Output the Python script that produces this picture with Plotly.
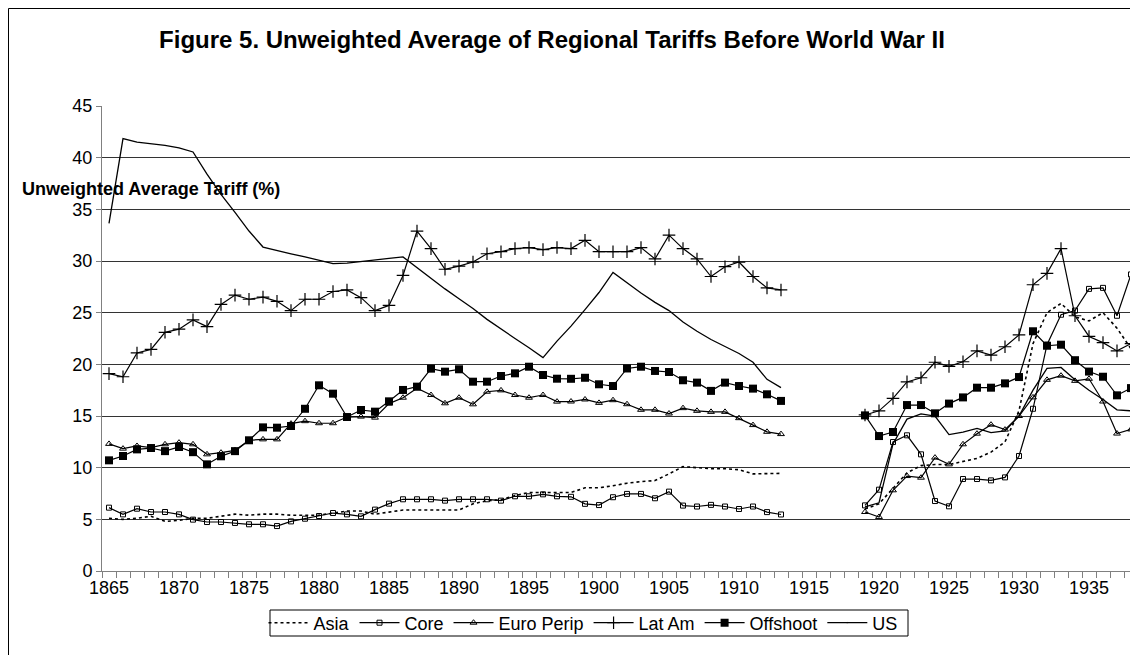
import plotly.graph_objects as go

# years on the category axis; 1914-1918 have no data
years = list(range(1865, 1939))
gap = [None] * 5

asia_early = [5.1, 5.0, 5.1, 5.3, 4.8, 4.9, 5.1, 5.1, 5.3, 5.5,
              5.4, 5.5, 5.5, 5.4, 5.4, 5.4, 5.6, 5.8, 5.8, 5.5,
              5.7, 5.9, 5.9, 5.9, 5.9, 5.9, 6.5, 6.8, 6.9, 7.3,
              7.6, 7.6, 7.6, 7.6, 8.05, 8.05, 8.25, 8.5, 8.65, 8.75,
              9.4, 10.1, 10.0, 9.9, 9.9, 9.8, 9.4, 9.45, 9.45]
asia_late = [6.0, 6.5, 8.0, 9.5, 10.2, 10.3, 10.3, 10.6, 10.9, 11.5,
             12.5, 15.5, 22.0, 25.0, 25.9, 24.6, 24.2, 25.0, 23.5, 21.5]

core_early = [6.13, 5.48, 6.03, 5.71, 5.71, 5.48, 4.97, 4.74, 4.74, 4.65,
              4.52, 4.52, 4.35, 4.8, 5.06, 5.32, 5.61, 5.48, 5.29, 5.94,
              6.52, 6.94, 6.94, 6.94, 6.81, 6.94, 6.94, 6.94, 6.81, 7.23,
              7.23, 7.42, 7.23, 7.18, 6.5, 6.38, 7.14, 7.46, 7.46, 7.04,
              7.68, 6.33, 6.24, 6.4, 6.24, 6.0, 6.24, 5.7, 5.47]
core_late = [6.35, 7.87, 12.48, 13.13, 11.29, 6.77, 6.26, 8.9, 8.9, 8.77,
             9.06, 11.13, 15.7, 21.9, 24.8, 25.2, 27.3, 27.4, 24.7, 28.7]

euro_early = [12.3, 11.84, 12.1, 11.94, 12.26, 12.42, 12.26, 11.29, 11.45, 11.68,
              12.65, 12.74, 12.74, 14.26, 14.5, 14.3, 14.3, 14.9, 14.94, 14.84,
              16.2, 16.77, 17.68, 17.03, 16.23, 16.77, 16.13, 17.35, 17.48, 17.03,
              16.77, 17.03, 16.39, 16.4, 16.6, 16.27, 16.53, 16.14, 15.6, 15.6,
              15.24, 15.76, 15.5, 15.4, 15.4, 14.79, 14.12, 13.47, 13.25]
euro_late = [5.71, 5.23, 7.81, 9.19, 9.03, 10.97, 10.32, 12.26, 13.29, 14.16,
             13.68, 15.0, 16.8, 18.5, 18.9, 18.4, 18.6, 16.4, 13.3, 13.7]

latam_early = [19.1, 18.8, 21.1, 21.45, 23.1, 23.4, 24.3, 23.65, 25.8, 26.7,
               26.3, 26.5, 26.1, 25.2, 26.3, 26.3, 27.05, 27.2, 26.45, 25.2,
               25.7, 28.6, 32.9, 31.2, 29.2, 29.5, 29.9, 30.7, 30.9, 31.2,
               31.3, 31.1, 31.3, 31.2, 32.0, 30.9, 30.9, 30.9, 31.3, 30.2,
               32.5, 31.2, 30.2, 28.5, 29.45, 29.9, 28.5, 27.4, 27.2]
latam_late = [15.1, 15.5, 16.7, 18.3, 18.7, 20.2, 19.8, 20.25, 21.3, 20.9,
              21.7, 22.85, 27.7, 28.8, 31.2, 24.7, 22.7, 22.1, 21.3, 22.0]

offshoot_early = [10.71, 11.13, 11.77, 11.9, 11.6, 12.0, 11.5, 10.32, 11.1, 11.6,
                  12.65, 13.9, 13.87, 14.03, 15.7, 17.97, 17.16, 14.9, 15.58, 15.42,
                  16.42, 17.52, 17.84, 19.58, 19.29, 19.52, 18.32, 18.32, 18.87, 19.13,
                  19.77, 18.97, 18.61, 18.6, 18.7, 18.07, 17.9, 19.6, 19.77, 19.36,
                  19.26, 18.46, 18.23, 17.43, 18.23, 17.9, 17.65, 17.1, 16.46]
offshoot_late = [15.06, 13.06, 13.45, 16.06, 16.06, 15.26, 16.2, 16.8, 17.74, 17.74,
                 18.16, 18.77, 23.2, 21.8, 21.9, 20.4, 19.3, 18.8, 17.0, 17.7]

us_early = [33.65, 41.84, 41.5, 41.35, 41.2, 40.95, 40.55, 38.4, 36.45, 34.7,
            32.9, 31.35, 31.06, 30.7, 30.4, 30.1, 29.74, 29.8, 29.97, 30.15,
            30.26, 30.4, 29.35, 28.3, 27.3, 26.35, 25.4, 24.35, 23.4, 22.5,
            21.6, 20.65, 22.25, 23.7, 25.3, 26.95, 28.9, 27.9, 26.9, 26.0,
            25.2, 24.1, 23.2, 22.4, 21.7, 21.05, 20.2, 18.55, 17.75]
us_late = [6.2, 6.6, 12.3, 14.7, 15.2, 15.0, 13.2, 13.45, 13.8, 13.4,
           13.55, 15.0, 17.5, 19.6, 19.7, 18.5, 17.5, 16.6, 15.6, 15.5]

series = [
    ("Asia", asia_early + gap + asia_late,
     dict(dash="dot", width=1.6), dict(size=1, opacity=0)),
    ("Core", core_early + gap + core_late,
     dict(width=1.2), dict(symbol="square-open", size=5, line=dict(width=1))),
    ("Euro Perip", euro_early + gap + euro_late,
     dict(width=1.2), dict(symbol="triangle-up-open", size=6, line=dict(width=1))),
    ("Lat Am", latam_early + gap + latam_late,
     dict(width=1.2), dict(symbol="cross-thin", size=9, line=dict(width=1.2, color="black"))),
    ("Offshoot", offshoot_early + gap + offshoot_late,
     dict(width=1.2), dict(symbol="square", size=8)),
    ("US", us_early + gap + us_late,
     dict(width=1.3), dict(size=1, opacity=0)),
]

fig = go.Figure()
for name, vals, ln, mk in series:
    ln["color"] = "black"
    mk.setdefault("color", "black")
    fig.add_trace(go.Scatter(x=years, y=vals, name=name, mode="lines+markers",
                             line=ln, marker=mk))

font = "Liberation Sans, Arial, sans-serif"
# plot area is 1036 x 465 px
pw, ph = 1036, 465
fig.update_layout(
    width=1138, height=655,
    paper_bgcolor="white", plot_bgcolor="white",
    font=dict(family=font, size=18, color="black"),
    margin=dict(l=94, r=8, t=98, b=92),
    title=dict(text="<b>Figure 5. Unweighted Average of Regional Tariffs Before World War II</b>",
               x=(544 - 94) / pw, xanchor="center", xref="paper",
               y=0.965, yanchor="top", font=dict(size=24)),
    legend=dict(orientation="h", x=(575 - 94) / pw, xanchor="center",
                y=-52 / ph, yanchor="middle", borderwidth=0,
                font=dict(size=18), itemwidth=40, tracegroupgap=0,
                bgcolor="rgba(0,0,0,0)"),
    showlegend=True,
)
fig.update_xaxes(range=[1864.5, 1938.5], tickmode="linear", tick0=1865, dtick=5,
                 ticks="", showgrid=False, zeroline=False,
                 showline=True, linecolor="#808080", linewidth=1,
                 minor=dict(tick0=1864.5, dtick=1, ticks="outside", ticklen=6,
                            tickcolor="#808080", showgrid=False))
fig.update_yaxes(range=[0, 45], dtick=5, ticks="outside", ticklen=5, tickcolor="#808080",
                 showgrid=True, gridcolor="#333333", gridwidth=1, zeroline=False,
                 showline=True, linecolor="#808080", linewidth=1)

fig.add_annotation(text="<b>Unweighted Average Tariff (%)</b>", xref="paper", yref="y",
                   x=-82 / pw, y=37.0, xanchor="left", yanchor="middle",
                   showarrow=False, font=dict(size=18))
# legend box, tighter than plotly's own border
fig.add_shape(type="rect", xref="paper", yref="paper",
              x0=(262 - 94) / pw, x1=(900 - 94) / pw, y0=-65 / ph, y1=-39 / ph,
              line=dict(color="black", width=1))
# outer chart frame
fig.add_shape(type="rect", xref="paper", yref="paper",
              x0=-93.5 / pw, x1=1 + 6.5 / pw, y0=-88 / ph, y1=1 + 97.5 / ph,
              line=dict(color="black", width=1))

fig.write_html("out.html")
